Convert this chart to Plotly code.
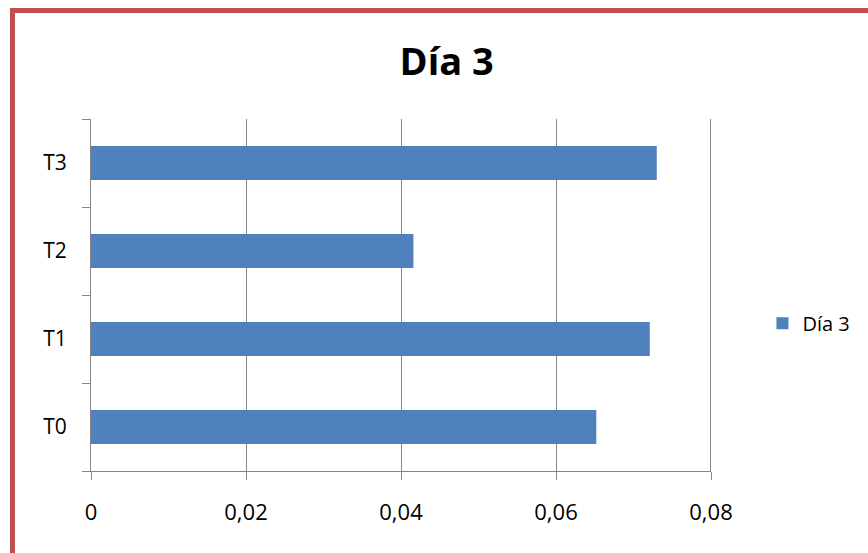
import plotly.graph_objects as go

# Treatment groups and their day-3 values
categories = ["T0", "T1", "T2", "T3"]
values = [0.0652, 0.0721, 0.0416, 0.0730]
series_name = "Día 3"
x_ticks = [0, 0.02, 0.04, 0.06, 0.08]
x_tick_labels = ["0", "0,02", "0,04", "0,06", "0,08"]

BAR_COLOR = "#4F81BD"
GRID = "#868686"
FONT = "Open Sans"

fig = go.Figure(
    go.Bar(
        x=values,
        y=categories,
        orientation="h",
        name=series_name,
        marker=dict(color=BAR_COLOR, line=dict(width=0)),
        showlegend=True,
    )
)

fig.update_layout(
    width=868,
    height=553,
    margin=dict(l=91, r=157, t=119, b=82),
    paper_bgcolor="white",
    plot_bgcolor="white",
    bargap=0.614,
    font=dict(family=FONT, size=21, color="#000000"),
    title=dict(
        text="<b>Día 3</b>",
        font=dict(family=FONT, size=38, color="#000000"),
        x=0.5146,
        xanchor="center",
        xref="container",
        y=0.888,
        yanchor="middle",
        yref="container",
    ),
    legend=dict(
        x=1.083,
        xanchor="left",
        y=0.42,
        yanchor="middle",
        font=dict(family=FONT, size=20, color="#000000"),
        bgcolor="rgba(0,0,0,0)",
    ),
    xaxis=dict(
        range=[0, 0.08],
        tickvals=x_ticks,
        ticktext=x_tick_labels,
        tickfont=dict(size=22),
        showgrid=True,
        gridcolor=GRID,
        gridwidth=1,
        showline=True,
        linecolor=GRID,
        linewidth=1,
        ticks="outside",
        ticklen=8,
        tickcolor=GRID,
        tickwidth=1,
        ticklabelstandoff=14,
        zeroline=False,
        fixedrange=True,
    ),
    yaxis=dict(
        categoryorder="array",
        categoryarray=categories,
        tickfont=dict(size=21),
        showgrid=False,
        showline=True,
        linecolor=GRID,
        linewidth=1,
        ticks="outside",
        tickson="boundaries",
        ticklen=8,
        tickcolor=GRID,
        tickwidth=1,
        ticklabelstandoff=19,
        zeroline=False,
        fixedrange=True,
    ),
    shapes=[
        # heavier line at the right end of the value axis
        dict(
            type="line",
            xref="x",
            yref="paper",
            x0=0.08,
            x1=0.08,
            y0=0,
            y1=1,
            line=dict(color=GRID, width=2),
        ),
        # red frame around the chart area
        dict(
            type="rect",
            xref="paper",
            yref="paper",
            x0=-0.1266,
            x1=1.26,
            y0=-0.25,
            y1=1.308,
            line=dict(color="#C0504D", width=5),
            fillcolor="rgba(0,0,0,0)",
            layer="above",
        ),
    ],
)

fig.write_html("out.html")
